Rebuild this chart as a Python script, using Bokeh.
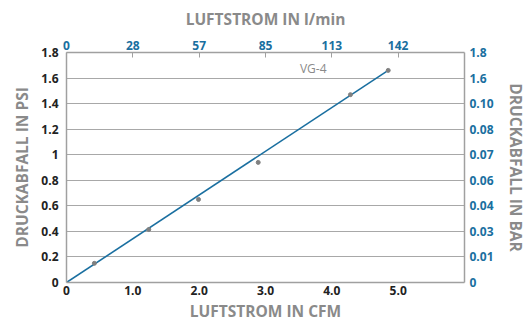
from bokeh.plotting import figure
from bokeh.models import LinearAxis, Range1d, FixedTicker, Label
from bokeh.embed import file_html
from bokeh.resources import INLINE

# Data
cfm = [0.42, 1.24, 1.99, 2.89, 4.28, 4.85]
psi = [0.15, 0.415, 0.65, 0.94, 1.47, 1.66]
fit_cfm = [0, 4.85]
fit_psi = [0, 1.66]
series_name = "VG-4"

x_ticks = [0, 1, 2, 3, 4, 5]
x_tick_labels = ["0", "1.0", "2.0", "3.0", "4.0", "5.0"]
top_tick_labels = ["0", "28", "57", "85", "113", "142"]
y_ticks = [0, 0.2, 0.4, 0.6, 0.8, 1.0, 1.2, 1.4, 1.6, 1.8]
y_tick_labels = ["0", "0.2", "0.4", "0.6", "0.8", "1", "1.2", "1.4", "1.6", "1.8"]
right_tick_labels = ["0", "0.01", "0.03", "0.04", "0.06", "0.07", "0.08", "0.10", "1.6", "1.8"]

FONT = "Open Sans"
BLUE = "#1a6fa0"
GRAY_T = "#8a8a8a"
AX = "#a0a0a0"

p = figure(frame_width=398, frame_height=230, output_backend="svg", toolbar_location=None,
           x_range=Range1d(0, 6.0), y_range=Range1d(0, 1.8),
           min_border_left=66, min_border_right=59, min_border_top=52, min_border_bottom=36)
p.outline_line_color = None
p.background_fill_color = "white"
p.xgrid.visible = False
p.ygrid.ticker = FixedTicker(ticks=y_ticks)
p.ygrid.grid_line_color = "#a8a8a8"
p.ygrid.grid_line_width = 1.2

def style(ax, color, title, lsize="15.5px"):
    ax.axis_line_color = AX
    ax.axis_line_width = 1.5
    ax.major_tick_out = 0
    ax.major_tick_in = 0
    ax.minor_tick_out = 0
    ax.minor_tick_in = 0
    ax.major_label_text_font = FONT
    ax.major_label_text_font_style = "bold"
    ax.major_label_text_font_size = "12px"
    ax.major_label_text_color = color
    ax.axis_label = title
    ax.axis_label_text_font = FONT
    ax.axis_label_text_font_style = "bold"
    ax.axis_label_text_font_size = lsize
    ax.axis_label_text_color = GRAY_T

bx = p.xaxis[0]
style(bx, "#222222", "LUFTSTROM IN CFM")
bx.ticker = FixedTicker(ticks=x_ticks)
bx.major_label_overrides = {t: l for t, l in zip(x_ticks, x_tick_labels)}
bx.major_label_standoff = 3
bx.axis_label_standoff = 2

ly = p.yaxis[0]
style(ly, "#222222", "DRUCKABFALL IN PSI")
ly.ticker = FixedTicker(ticks=y_ticks)
ly.major_label_overrides = {t: l for t, l in zip(y_ticks, y_tick_labels)}
ly.major_label_standoff = 8
ly.axis_label_standoff = 5

tx = LinearAxis()
style(tx, BLUE, "LUFTSTROM IN l/min")
tx.ticker = FixedTicker(ticks=x_ticks)
tx.major_label_overrides = {t: l for t, l in zip(x_ticks, top_tick_labels)}
tx.major_tick_in = 5
tx.major_tick_line_color = AX
tx.major_label_standoff = 3
tx.axis_label_standoff = 8
p.add_layout(tx, "above")

ry = LinearAxis()
style(ry, BLUE, "DRUCKABFALL IN BAR")
ry.ticker = FixedTicker(ticks=y_ticks)
ry.major_label_overrides = {t: l for t, l in zip(y_ticks, right_tick_labels)}
ry.major_label_standoff = 5
ry.axis_label_standoff = 8
p.add_layout(ry, "right")

p.line(fit_cfm, fit_psi, line_color=BLUE, line_width=1.6)
p.scatter(cfm, psi, size=4, color="#808080")

p.add_layout(Label(x=3.72, y=1.675, text=series_name, text_font=FONT,
                   text_font_size="12px", text_color=GRAY_T, text_align="center",
                   text_baseline="middle"))

open("out.html", "w").write(file_html(p, INLINE))
